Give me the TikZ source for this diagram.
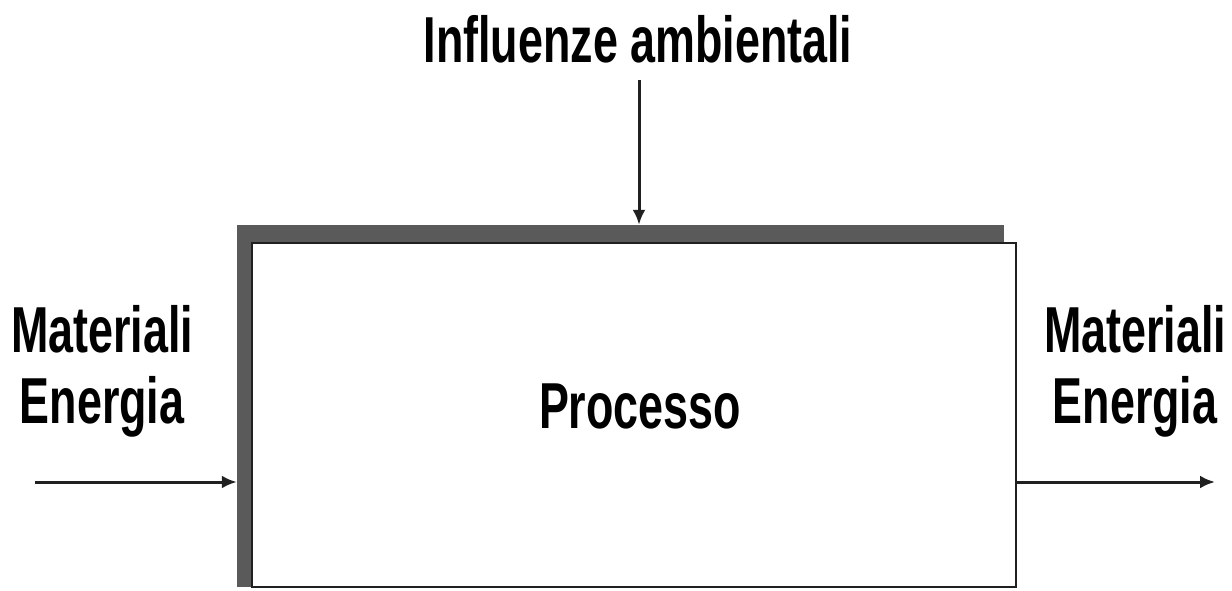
\documentclass[tikz,border=0pt]{standalone}
\usepackage{fontspec}
\setmainfont[FakeStretch=0.69]{Liberation Sans}
\usetikzlibrary{arrows.meta, positioning, calc}
\definecolor{shadowgray}{HTML}{5A5A5A}
\definecolor{linegray}{HTML}{202020}

\begin{document}
\begin{tikzpicture}[
  x=1pt, y=1pt,
  label/.style={font=\fontsize{65}{71}\selectfont\bfseries, align=center, inner sep=0pt},
  procbox/.style={rectangle, draw=linegray, line width=2.8pt, fill=white, minimum width=764pt, minimum height=344pt, inner sep=0pt},
  shadowbox/.style={rectangle, fill=shadowgray, minimum width=767pt, minimum height=362pt, inner sep=0pt},
  arrow/.style={-{Latex[length=15pt, width=13pt]}, line width=3pt, draw=linegray}
]
  \useasboundingbox (0,0) rectangle (1232,590);

  \node[shadowbox] (shd) at (620.5,184) {};
  \node[procbox] (proc) at (634,175) {};
  \node[label, anchor=base] (title) at (638,527) {Influenze ambientali};
  \node[label, anchor=base] (procname) at (640,162) {Processo};
  \node[label] (inL) at (102,219) {Materiali\\Energia};
  \node[label] (outR) at (1135,219) {Materiali\\Energia};

  \coordinate (srcL) at (35,108);
  \coordinate (dstR) at (1215,108);
  \coordinate (srcT) at (639,510);

  \draw[arrow] (srcL) -- (srcL -| shd.west);
  \draw[arrow] (dstR -| proc.east) -- (dstR);
  \draw[arrow] (srcT) -- (srcT |- shd.north);
\end{tikzpicture}
\end{document}
